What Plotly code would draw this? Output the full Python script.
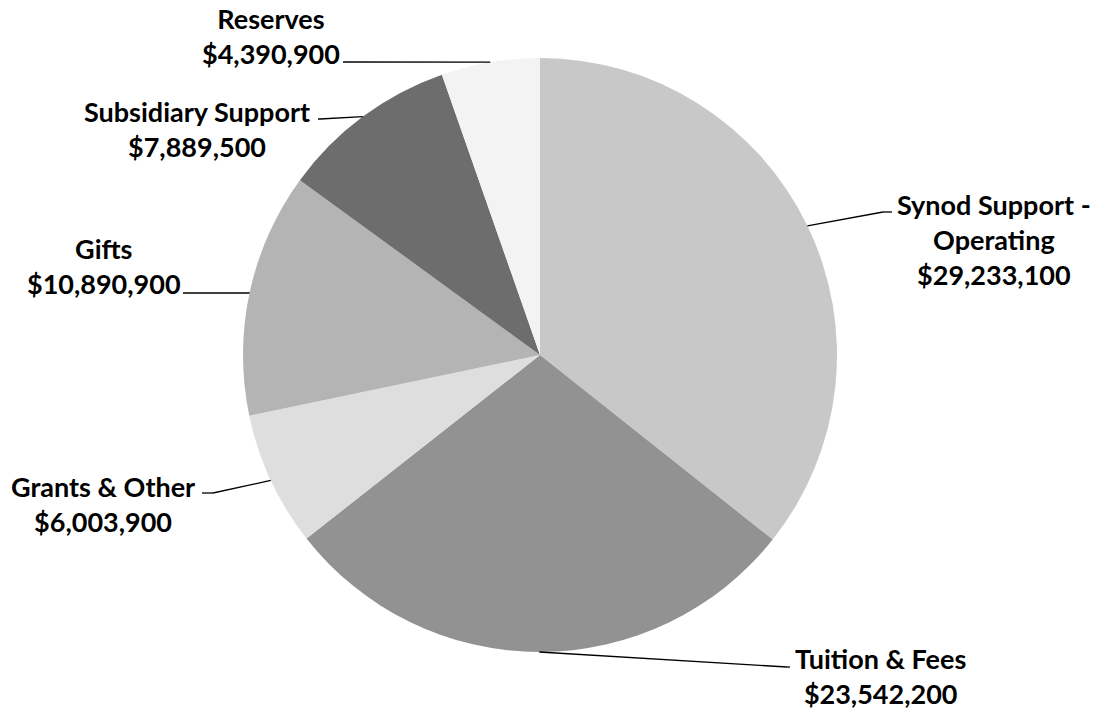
import math
import plotly.graph_objects as go

# ---- data ----
categories = ["Synod Support -<br>Operating", "Tuition & Fees", "Grants & Other",
              "Gifts", "Subsidiary Support", "Reserves"]
values = [29233100, 23542200, 6003900, 10890900, 7889500, 4390900]
colors = ["#c8c8c8", "#929292", "#dedede", "#b4b4b4", "#6d6d6d", "#f3f3f3"]

W, H = 1104, 712
CX, CY, R = 540, 355, 297

# label block centres and leader-line elbows (pixel layout positions)
label_pos = [(994, 240), (880, 676), (103, 504), (104, 266), (197, 129), (271, 36)]
elbows = [[(883, 212), (892, 212)],
          [(787, 667), (790, 667)],
          [(213, 493), (202, 493)],
          [(249, 293), (183, 293)],
          [(320, 119), (318, 119)],
          [(343, 62), (343, 62)]]

fig = go.Figure(go.Pie(
    labels=[c.replace("<br>", " ") for c in categories],
    values=values,
    sort=False,
    direction="clockwise",
    rotation=0,
    marker=dict(colors=colors, line=dict(width=0)),
    textinfo="none",
    hoverinfo="label+value",
    showlegend=False,
    domain=dict(x=[(CX - R) / W, (CX + R) / W],
                y=[(H - CY - R) / H, (H - CY + R) / H]),
))

def px(x, y):
    return x / W, 1 - y / H

total = sum(values)
cum = 0
shapes = []
annotations = []
for i, v in enumerate(values):
    mid = (cum + v / 2) / total * 2 * math.pi
    cum += v
    sx = CX + R * math.sin(mid)
    sy = CY - R * math.cos(mid)
    pts = [(sx, sy)] + elbows[i]
    for (x0, y0), (x1, y1) in zip(pts[:-1], pts[1:]):
        a0, b0 = px(x0, y0)
        a1, b1 = px(x1, y1)
        shapes.append(dict(type="line", xref="paper", yref="paper",
                           x0=a0, y0=b0, x1=a1, y1=b1,
                           line=dict(color="#000000", width=1.3)))
    lx, ly = px(*label_pos[i])
    annotations.append(dict(
        x=lx, y=ly, xref="paper", yref="paper", xanchor="center", yanchor="middle",
        showarrow=False, align="center",
        text="<b>" + categories[i] + "<br>$" + f"{v:,}" + "</b>",
        font=dict(family="Lato", size=27, color="#000000"),
    ))

fig.update_layout(
    width=W, height=H,
    margin=dict(l=0, r=0, t=0, b=0),
    paper_bgcolor="white", plot_bgcolor="white",
    shapes=shapes, annotations=annotations,
)

fig.write_html("out.html",
               config={"displayModeBar": False},
               post_script="document.body.style.margin='0px';document.body.style.overflow='hidden';")
